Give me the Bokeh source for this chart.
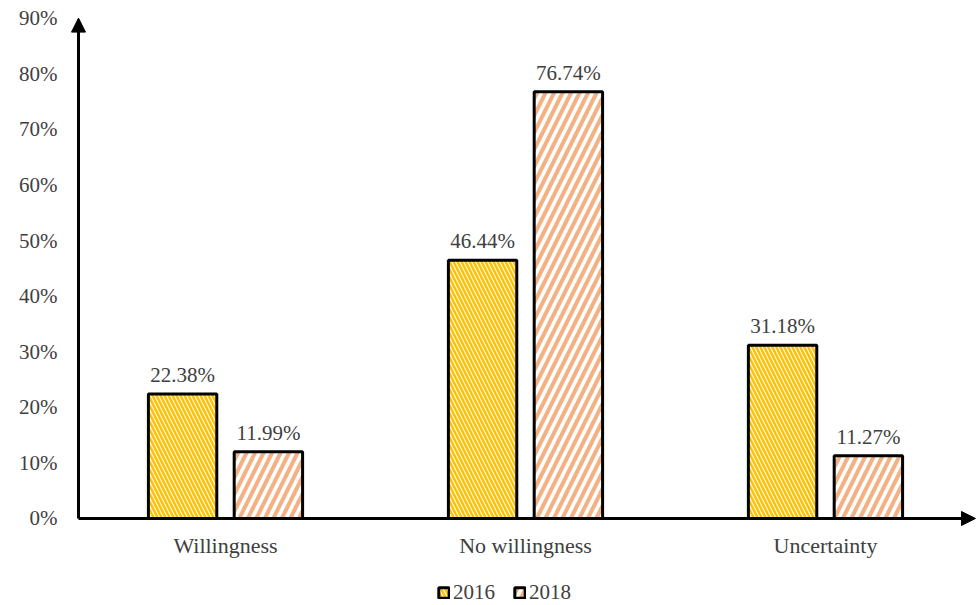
from bokeh.plotting import figure
from bokeh.models import Range1d, FixedTicker, Arrow, NormalHead, Legend, LegendItem, ColumnDataSource
from bokeh.core.properties import value
from bokeh.embed import file_html
from bokeh.resources import INLINE

categories = ["Willingness", "No willingness", "Uncertainty"]
series_names = ["2016", "2018"]
values_2016 = [22.38, 46.44, 31.18]
values_2018 = [11.99, 76.74, 11.27]
y_ticks = [0, 10, 20, 30, 40, 50, 60, 70, 80, 90]
y_tick_labels = ["0%", "10%", "20%", "30%", "40%", "50%", "60%", "70%", "80%", "90%"]

FONT = "Liberation Serif"
TXT = "#404040"

# frame spans x 60..977 and y 0..605 ; 300 px per category, 5.56 px per percent
p = figure(width=977, height=605, output_backend="svg", toolbar_location=None,
           x_range=Range1d(-0.05, 3.0067), y_range=Range1d(-15.65, 93.17),
           min_border_left=60, min_border_right=0, min_border_top=0, min_border_bottom=0)
p.outline_line_color = None
p.xgrid.visible = False
p.ygrid.visible = False
p.xaxis.visible = False
p.background_fill_color = "white"

centers = [i + 0.5 for i in range(len(categories))]
off = 0.143
bw = 0.228

src16 = ColumnDataSource(dict(x=[c - off for c in centers], top=values_2016,
                              lab=[f"{v:.2f}%" for v in values_2016]))
src18 = ColumnDataSource(dict(x=[c + off for c in centers], top=values_2018,
                              lab=[f"{v:.2f}%" for v in values_2018]))

r16 = p.vbar(x="x", top="top", bottom=0, width=bw, source=src16, fill_color="white",
             line_color="black", line_width=3, hatch_pattern="\\", hatch_color="#FFC000",
             hatch_scale=8, hatch_weight=2.5)
r18 = p.vbar(x="x", top="top", bottom=0, width=bw, source=src18, fill_color="white",
             line_color="black", line_width=3, hatch_pattern="/", hatch_color="#F4B183",
             hatch_scale=17, hatch_weight=4)

for s in (src16, src18):
    p.text(x="x", y="top", text="lab", source=s, text_align="center", text_baseline="bottom",
           y_offset=-7, text_font=value(FONT), text_font_size="21px", text_color=TXT)

# category labels under the x axis
cat_src = ColumnDataSource(dict(x=centers, y=[0] * len(centers), t=categories))
p.text(x="x", y="y", text="t", source=cat_src, text_align="center", text_baseline="middle",
       y_offset=27, text_font=value(FONT), text_font_size="22px", text_color=TXT)

# y axis labels
p.yaxis.ticker = FixedTicker(ticks=y_ticks)
p.yaxis.major_label_overrides = {t: l for t, l in zip(y_ticks, y_tick_labels)}
ax = p.yaxis[0]
ax.axis_line_color = None
ax.major_tick_line_color = None
ax.minor_tick_line_color = None
ax.major_tick_out = 0
ax.major_tick_in = 0
ax.major_label_text_font = FONT
ax.major_label_text_font_size = "21px"
ax.major_label_text_color = TXT
ax.major_label_standoff = 3

p.add_layout(Arrow(x_start=0.01, y_start=0, x_end=0.01, y_end=90, line_width=3, line_color="black",
                   end=NormalHead(size=14, fill_color="black", line_color="black", line_width=1)))
p.add_layout(Arrow(x_start=0.01, y_start=0, x_end=3.0, y_end=0, line_width=3, line_color="black",
                   end=NormalHead(size=14, fill_color="black", line_color="black", line_width=1)))

legend = Legend(items=[LegendItem(label=series_names[0], renderers=[r16]),
                       LegendItem(label=series_names[1], renderers=[r18])],
                orientation="horizontal", location=(377, 0),
                glyph_width=13, glyph_height=13, label_standoff=3, spacing=18,
                label_text_font=FONT, label_text_font_size="21px", label_text_color=TXT,
                border_line_color=None, background_fill_alpha=0, padding=3, margin=0)
p.add_layout(legend, "center")

open("out.html", "w").write(file_html(p, INLINE))
